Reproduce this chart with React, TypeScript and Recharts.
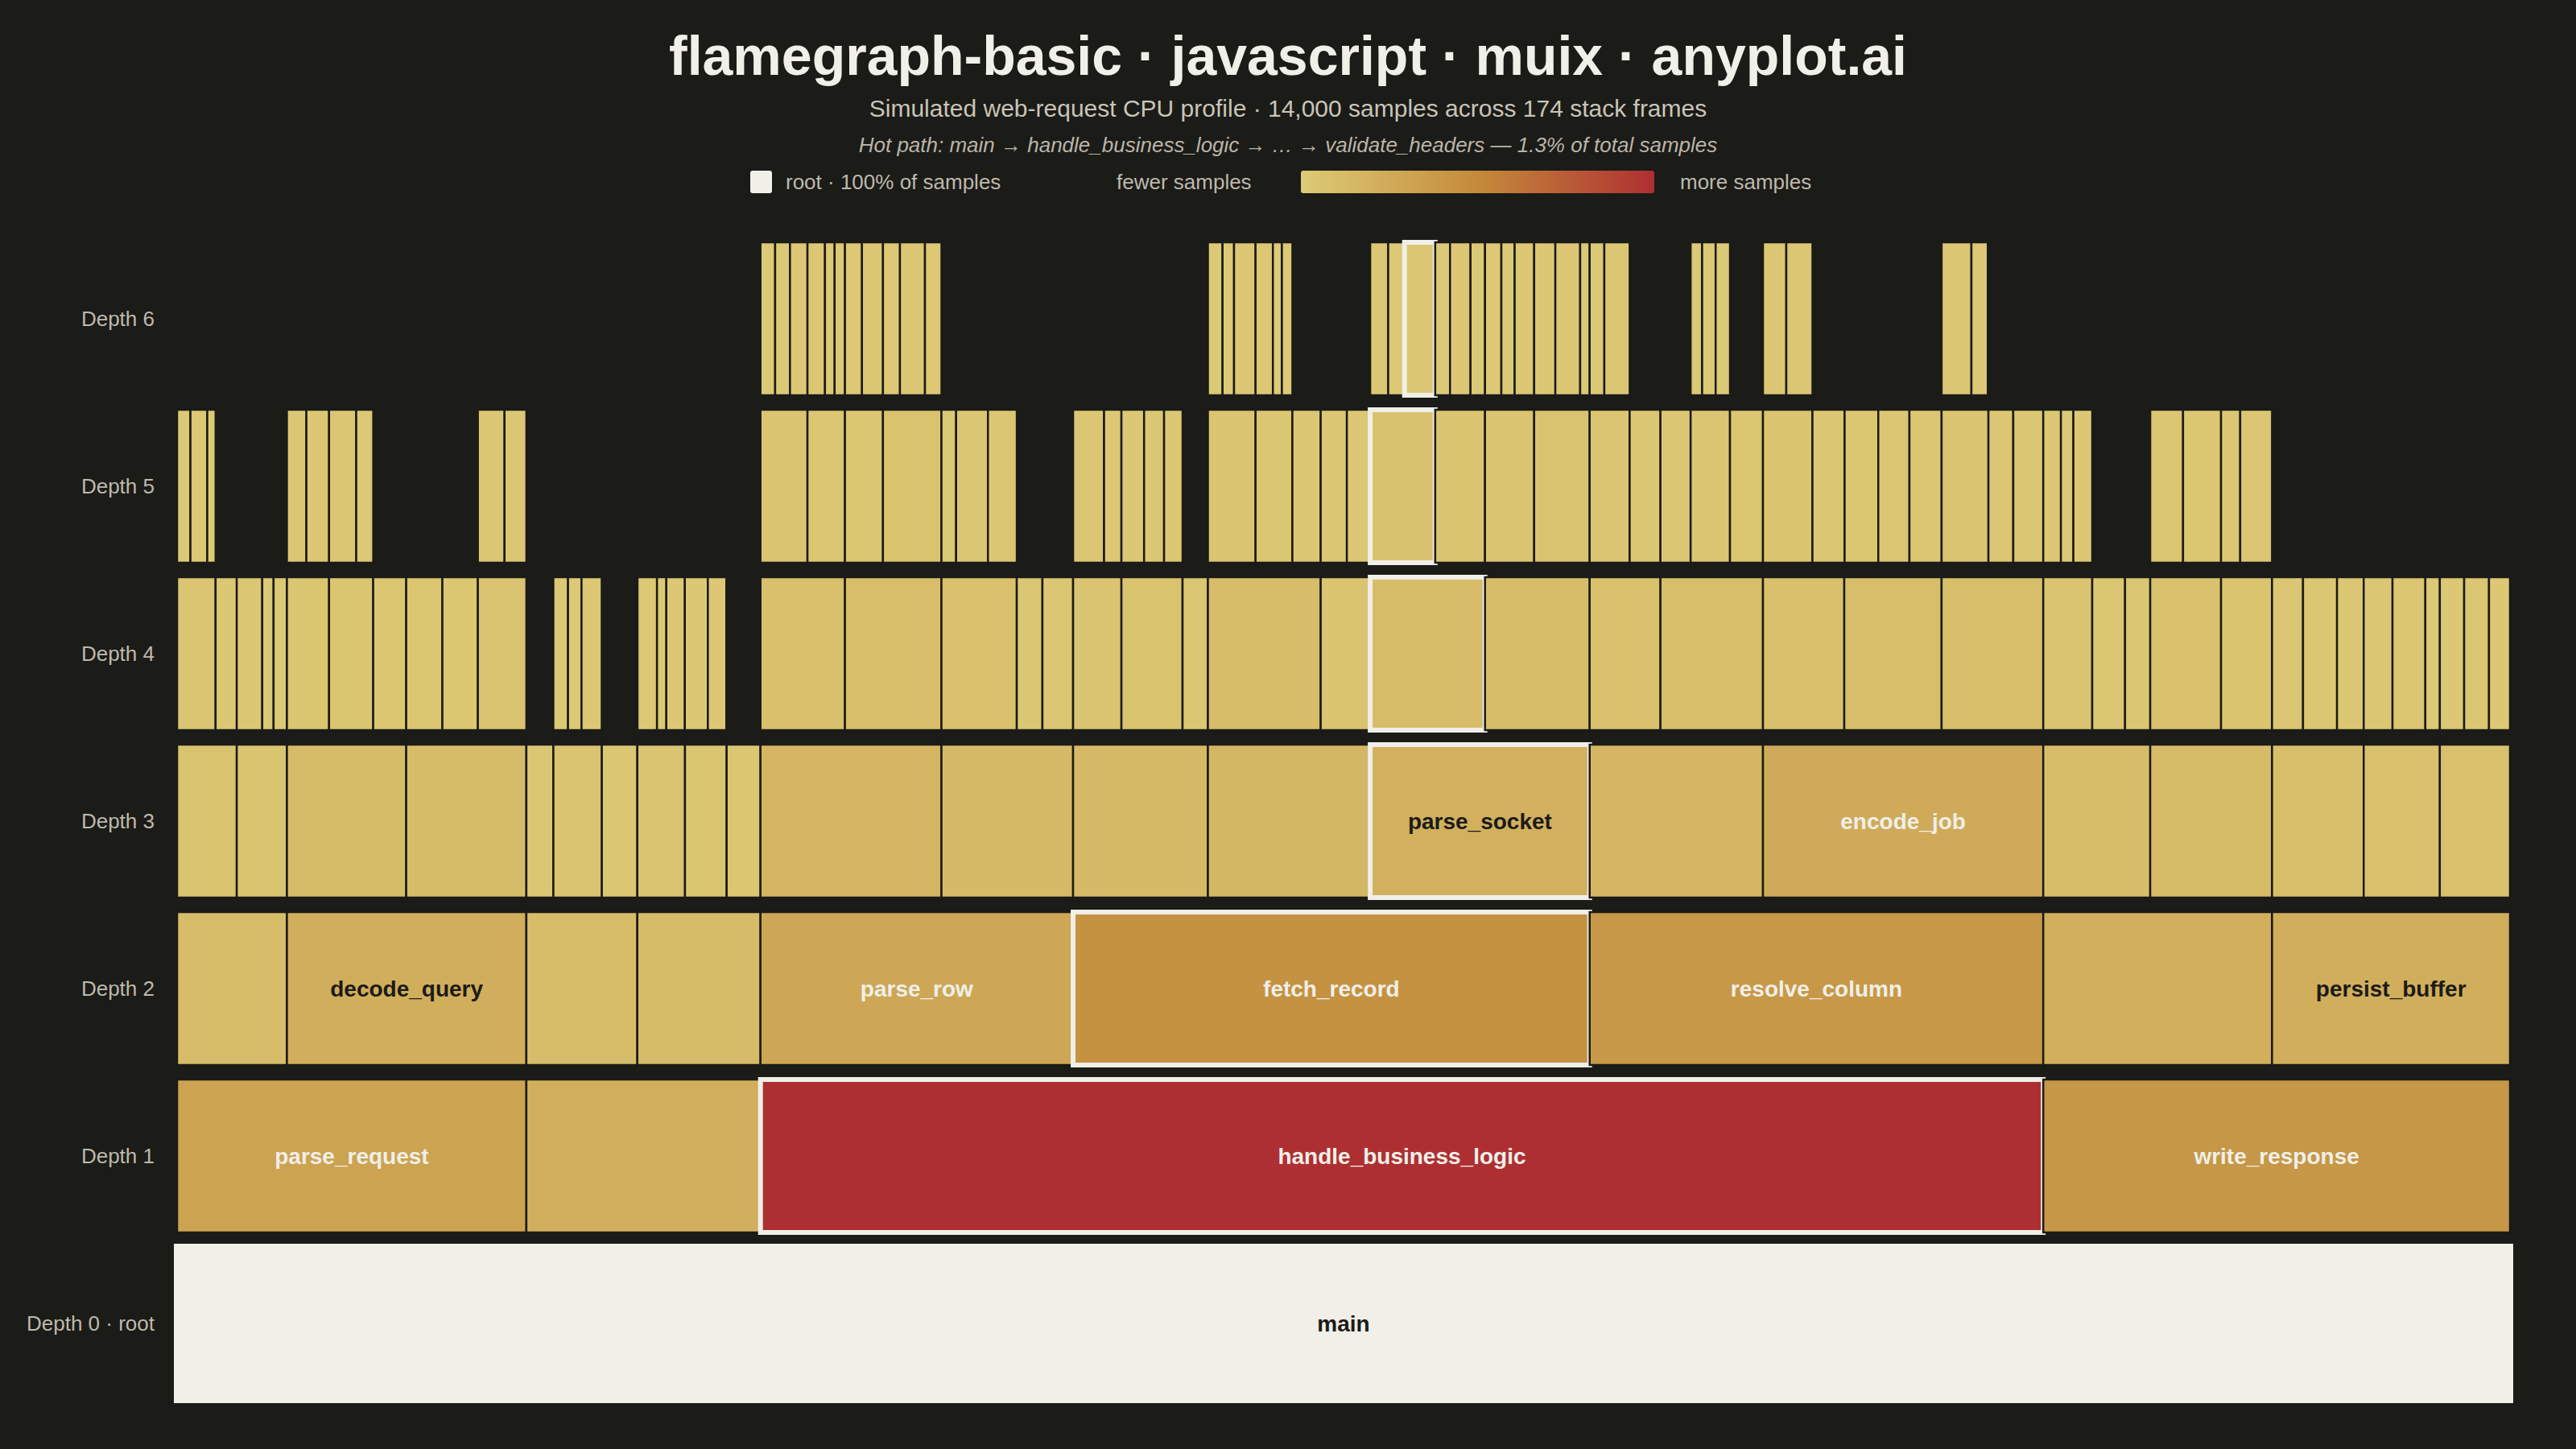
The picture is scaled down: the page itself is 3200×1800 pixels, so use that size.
import { BarChart, Bar, XAxis, YAxis } from 'recharts';

type Frame = [number, number, string?]; // [first sample, end sample, label]

const TOTAL_SAMPLES = 14000;
const FONT = '"Liberation Sans", Arial, Helvetica, sans-serif';
const BG = '#1b1b17';
const INK = '#f0efe8';
const MUTED = '#bdb9ad';

const depthLabels = ['Depth 0 · root', 'Depth 1', 'Depth 2', 'Depth 3', 'Depth 4', 'Depth 5', 'Depth 6'];

const depth0: Frame[] = [[0, 14000, 'main']];

const depth1: Frame[] = [
  [0, 2096, 'parse_request'], [2096, 3501], [3501, 11199, 'handle_business_logic'], [11199, 14000, 'write_response'],
];

const depth2: Frame[] = [
  [0, 659], [659, 2096, 'decode_query'], [2096, 2762], [2762, 3501], [3501, 5377, 'parse_row'],
  [5377, 8477, 'fetch_record'], [8477, 11199, 'resolve_column'], [11199, 12572], [12572, 14000, 'persist_buffer'],
];

const depth3: Frame[] = [
  [0, 358], [358, 659], [659, 1375], [1375, 2096], [2096, 2258], [2258, 2549], [2549, 2762], [2762, 3048],
  [3048, 3298], [3298, 3501], [3501, 4587], [4587, 5377], [5377, 6186], [6186, 7160], [7160, 8477, 'parse_socket'],
  [8477, 9517], [9517, 11199, 'encode_job'], [11199, 11841], [11841, 12572], [12572, 13122], [13122, 13579], [13579, 14000],
];

const depth4: Frame[] = [
  [0, 231], [231, 358], [358, 511], [511, 579], [579, 659], [659, 912], [912, 1177], [1177, 1375], [1375, 1592],
  [1592, 1805], [1805, 2096], [2258, 2346], [2346, 2427], [2427, 2548], [2763, 2880], [2880, 2936], [2936, 3047],
  [3047, 3185], [3185, 3296], [3501, 4008], [4008, 4587], [4587, 5039], [5039, 5193], [5193, 5377], [5377, 5667],
  [5667, 6034], [6034, 6186], [6186, 6863], [6863, 7160], [7160, 7849], [7849, 8477], [8477, 8902], [8902, 9517],
  [9517, 10005], [10005, 10589], [10589, 11199], [11199, 11493], [11493, 11690], [11690, 11841], [11841, 12266],
  [12266, 12572], [12572, 12758], [12758, 12962], [12962, 13122], [13122, 13295], [13295, 13492], [13492, 13579],
  [13579, 13725], [13725, 13874], [13874, 14000],
];

const depth5: Frame[] = [
  [0, 80], [80, 181], [181, 231], [659, 776], [776, 912], [912, 1075], [1075, 1177], [1805, 1965], [1965, 2096],
  [3501, 3783], [3783, 4008], [4008, 4236], [4236, 4587], [4587, 4675], [4675, 4866], [4866, 5039], [5377, 5563],
  [5563, 5667], [5667, 5803], [5803, 5923], [5923, 6034], [6186, 6472], [6472, 6693], [6693, 6863], [6863, 7020],
  [7020, 7160], [7160, 7550], [7550, 7849], [7849, 8144], [8144, 8477], [8477, 8717], [8717, 8902], [8902, 9083],
  [9083, 9319], [9319, 9517], [9517, 9814], [9814, 10007], [10007, 10209], [10209, 10396], [10396, 10589],
  [10589, 10870], [10870, 11019], [11019, 11199], [11199, 11305], [11305, 11380], [11380, 11493], [11841, 12038],
  [12038, 12266], [12266, 12381], [12381, 12572],
];

const depth6: Frame[] = [
  [3501, 3589], [3589, 3678], [3678, 3783], [3783, 3888], [3888, 3946], [3946, 4008], [4008, 4110], [4110, 4236],
  [4236, 4338], [4338, 4488], [4488, 4587], [6186, 6274], [6274, 6343], [6343, 6472], [6472, 6576], [6576, 6630],
  [6630, 6693], [7160, 7268], [7268, 7366], [7366, 7550], [7550, 7639], [7639, 7762], [7762, 7849], [7849, 7947],
  [7947, 8027], [8027, 8144], [8144, 8271], [8271, 8420], [8420, 8477], [8477, 8565], [8565, 8717], [9083, 9152],
  [9152, 9233], [9233, 9319], [9517, 9657], [9657, 9814], [10589, 10768], [10768, 10866],
];

// hot path: main → handle_business_logic → fetch_record → parse_socket → … → validate_headers
const hotPathStarts = [0, 3501, 5377, 7160, 7160, 7160, 7366];

const framesByDepth = [depth0, depth1, depth2, depth3, depth4, depth5, depth6];

const maxChild = Math.max(...framesByDepth.slice(1).flat().map(([s, e]) => e - s));

const ramp = [[221, 203, 119], [193, 138, 58], [174, 47, 50]];
function heat(f: number) {
  const t = Math.pow(Math.max(0, Math.min(1, f)), 0.9) * 2;
  const i = t < 1 ? 0 : 1;
  const u = t - i;
  const c = ramp[i].map((v, j) => Math.round(v + (ramp[i + 1][j] - v) * u));
  return `rgb(${c[0]},${c[1]},${c[2]})`;
}

interface Seg { len: number; name?: string; depth?: number; frame?: boolean; hot?: boolean }

const rows: any[] = [];
for (let depth = framesByDepth.length - 1; depth >= 0; depth--) {
  const segs: Seg[] = [];
  let cursor = 0;
  framesByDepth[depth].forEach(([s, e, name]) => {
    if (s > cursor) segs.push({ len: s - cursor });
    segs.push({ len: e - s, name, depth, frame: true, hot: depth > 0 && s === hotPathStarts[depth] });
    cursor = e;
  });
  rows.push({ label: depthLabels[depth], depth, segs });
}
const seriesCount = Math.max(...rows.map((r) => r.segs.length));
rows.forEach((r) => {
  for (let k = 0; k < seriesCount; k++) r[`s${k}`] = r.segs[k] ? r.segs[k].len : 0;
});
const seriesKeys = Array.from({ length: seriesCount }, (_, k) => `s${k}`);

const frameShape = (k: number) => (props: any) => {
  const { x, y, width, height, payload } = props;
  const seg: Seg | undefined = payload?.segs?.[k];
  if (!seg || !seg.frame || !(width > 0)) return <g />;
  const isRoot = seg.depth === 0;
  const f = seg.len / maxChild;
  const fill = isRoot ? INK : heat(f);
  const stroke = isRoot || seg.hot ? INK : BG;
  const strokeWidth = isRoot ? 8 : seg.hot ? 6 : 2.5;
  const textFill = isRoot || f < 0.2 ? BG : INK;
  return (
    <g>
      <rect x={x} y={y} width={width} height={height} fill={fill} stroke={stroke} strokeWidth={strokeWidth} />
      {seg.name ? (
        <text
          x={x + width / 2}
          y={y + height / 2}
          textAnchor="middle"
          dominantBaseline="central"
          fontFamily={FONT}
          fontWeight={700}
          fontSize={28}
          fill={textFill}
        >
          {seg.name}
        </text>
      ) : null}
    </g>
  );
};

const centerText = (top: number, size: number, color: string, extra: any = {}) => ({
  position: 'absolute' as const,
  left: 0,
  top,
  width: 3200,
  textAlign: 'center' as const,
  fontSize: size,
  lineHeight: `${size}px`,
  color,
  fontFamily: FONT,
  ...extra,
});

const legendText = (left: number) => ({
  position: 'absolute' as const,
  left,
  top: 213,
  fontSize: 26,
  lineHeight: '26px',
  color: MUTED,
  fontFamily: FONT,
  whiteSpace: 'nowrap' as const,
});

export default function App() {
  return (
    <div style={{ position: 'fixed', left: 0, top: 0, width: 3200, height: 1800, background: BG, overflow: 'hidden' }}>
      <div style={centerText(35, 68, INK, { fontWeight: 700 })}>
        flamegraph-basic · javascript · muix · anyplot.ai
      </div>
      <div style={centerText(120, 30, '#c8c5b9')}>
        Simulated web-request CPU profile · 14,000 samples across 174 stack frames
      </div>
      <div style={centerText(167, 26, '#b9b5a9', { fontStyle: 'italic' })}>
        Hot path: main → handle_business_logic → … → validate_headers — 1.3% of total samples
      </div>

      <div style={{ position: 'absolute', left: 932, top: 212, width: 27, height: 28, borderRadius: 3, background: INK }} />
      <div style={legendText(976)}>root · 100% of samples</div>
      <div style={legendText(1387)}>fewer samples</div>
      <div
        style={{
          position: 'absolute',
          left: 1616,
          top: 212,
          width: 439,
          height: 28,
          borderRadius: 3,
          background: 'linear-gradient(90deg, #ddcb77 0%, #c48a3a 50%, #ae2f32 100%)',
        }}
      />
      <div style={legendText(2087)}>more samples</div>

      <div style={{ position: 'absolute', left: 0, top: 0 }}>
        <BarChart
          width={3200}
          height={1800}
          data={rows}
          layout="vertical"
          barSize={190}
          margin={{ top: 292, right: 82, bottom: 52, left: 0 }}
        >
          <XAxis type="number" domain={[0, TOTAL_SAMPLES]} hide />
          <YAxis
            type="category"
            dataKey="label"
            width={220}
            axisLine={false}
            tickLine={false}
            tickSize={0}
            tickMargin={28}
            interval={0}
            tick={{ fill: MUTED, fontSize: 26, fontFamily: FONT }}
          />
          {seriesKeys.map((key, k) => (
            <Bar key={key} dataKey={key} stackId="flame" isAnimationActive={false} shape={frameShape(k)} />
          ))}
        </BarChart>
      </div>
    </div>
  );
}
